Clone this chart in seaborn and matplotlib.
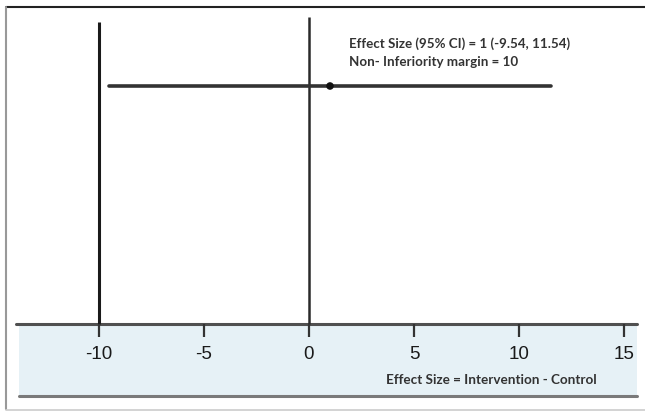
import matplotlib
matplotlib.use("Agg")
import matplotlib.pyplot as plt
import seaborn as sns
import pandas as pd
from matplotlib.patches import Rectangle

# ---- data ----
effect = [1.0]
ci_low = [-9.54]
ci_high = [11.54]
margin = [-10, 0]          # non-inferiority margin line and null line
tick_values = [-10, -5, 0, 5, 10, 15]
tick_labels = ["-10", "-5", "0", "5", "10", "15"]
annot_lines = ["Effect Size (95% CI) = 1 (-9.54, 11.54)", "Non- Inferiority margin = 10"]
xlabel = "Effect Size = Intervention - Control"

sns.set_theme(style="white")
plt.rcParams["font.family"] = ["Liberation Sans", "DejaVu Sans"]

W, H = 645, 411
fig = plt.figure(figsize=(W / 100, H / 100), dpi=100)
ax = fig.add_axes([0, 0, 1, 1])
x0, scale = 309.0, 21.0

def px(p):
    return (p - x0) / scale

row_y = 86
axis_y = 324
band_bottom = 396

# light blue band under the axis
ax.add_patch(Rectangle((px(19), axis_y), px(637) - px(19), band_bottom - axis_y,
                       facecolor="#e6f1f6", edgecolor="none", zorder=0))
ax.plot([px(16), px(637)], [axis_y, axis_y], color="#505050", lw=2.2, zorder=2)
ax.plot([px(19), px(637)], [band_bottom, band_bottom], color="#7a7a7a", lw=2.2, zorder=2)

# outer frame
ax.plot([px(6), px(645)], [7, 7], color="#222222", lw=1.5, zorder=2)
ax.plot([px(6), px(6)], [7, 409], color="#999999", lw=1.5, zorder=2)
ax.plot([px(6), px(645)], [409.5, 409.5], color="#cccccc", lw=1.2, zorder=2)

# vertical lines
ax.vlines([margin[0]], 22, axis_y, color="#1a1a1a", lw=2.2, zorder=3)
ax.vlines([margin[1]], 17, axis_y, color="#2a2a2a", lw=1.8, zorder=3)

# ticks and labels
ax.vlines(tick_values, axis_y, 337, color="#333333", lw=1.6, zorder=3)
for v, lab in zip(tick_values, tick_labels):
    ax.text(v, 354, lab, ha="center", va="center", fontsize=13.5, color="#1a1a1a")

# CI line + point
df = pd.DataFrame({"x": [ci_low[0], ci_high[0]], "y": [row_y, row_y]})
sns.lineplot(data=df, x="x", y="y", ax=ax, color="#333333", lw=2.6, zorder=4, legend=False)
pt = pd.DataFrame({"x": effect, "y": [row_y]})
sns.scatterplot(data=pt, x="x", y="y", ax=ax, color="#111111", s=30, edgecolor="none", zorder=5, legend=False)
ax.set_xlim(-x0 / scale, (W - x0) / scale)
ax.set_ylim(H, 0)
ax.axis("off")

# annotations
for i, line in enumerate(annot_lines):
    ax.text(px(349), 44 + 18 * i, line, ha="left", va="center", fontsize=9.6,
            family=["Lato", "DejaVu Sans"], weight="bold", color="#333333")
ax.text(px(386), 380, xlabel, ha="left", va="center", fontsize=9.7,
        family=["Lato", "DejaVu Sans"], weight="bold", color="#333333")

fig.savefig("out.png", dpi=100)
